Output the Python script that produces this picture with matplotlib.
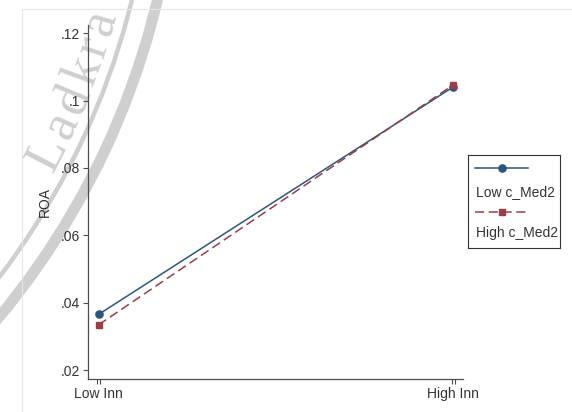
import numpy as np
import matplotlib
matplotlib.use("Agg")
import matplotlib.pyplot as plt
from matplotlib.patches import Wedge
from matplotlib.textpath import TextPath
from matplotlib.font_manager import FontProperties

plt.rcParams["font.family"] = ["Liberation Sans", "DejaVu Sans"]

# predicted ROA by innovation level, one series per c_Med2 group
groups = ["Low Inn", "High Inn"]
series_names = ["Low c_Med2", "High c_Med2"]
roa_low_med = [0.0365, 0.1041]
roa_high_med = [0.0334, 0.1047]
yticks = [0.02, 0.04, 0.06, 0.08, 0.10, 0.12]

W, H = 572, 412
fig = plt.figure(figsize=(W / 100, H / 100), dpi=100)

# faint seal behind the graph, laid out in pixel units
bg = fig.add_axes([0, 0, 1, 1], zorder=0)
bg.set_xlim(0, W)
bg.set_ylim(0, H)
bg.axis("off")
wm = "#cfcfcf"
seal = (-600, H + 180)
bg.add_patch(Wedge(seal, 784, -45, -5, width=11, color=wm, lw=0))
bg.add_patch(Wedge(seal, 756, -45, -5, width=4.5, color=wm, lw=0))

word = "Technology Ladkrabang"
fp = FontProperties(family="Liberation Serif")
size_px = 53
widths = []
for ch in word:
    if ch == " ":
        widths.append(0.25 * size_px + 6)
    else:
        widths.append(TextPath((0, 0), ch, size=size_px, prop=fp).get_extents().width + 6)
widths = np.array(widths)
s = np.cumsum(widths) - widths / 2
r_mid, r_base = 730, 742
phi = np.radians(-27.2) + (s - s[word.index("L")]) / r_mid
for ch, p in zip(word, phi):
    bx = seal[0] + r_base * np.cos(p)
    by = seal[1] + r_base * np.sin(p)
    # only letters that sit fully inside the picture
    if ch == " " or bx < 40 or by > H - 22:
        continue
    bg.text(bx, by, ch, fontsize=38, family="Liberation Serif", color=wm,
            rotation=np.degrees(p) + 90, rotation_mode="anchor",
            ha="center", va="baseline")

# light outer frame of the graph region
bg.plot([22, 22], [0, H - 9], color="#e6e6e6", lw=0.8)
bg.plot([22, W], [H - 9, H - 9], color="#e6e6e6", lw=0.8)

# main plot
ax = fig.add_axes([88 / W, (H - 379) / H, (463 - 88) / W, (379 - 25) / H], zorder=1)
ax.patch.set_alpha(0)

low_style = dict(color="#2a5680", lw=1.1, marker="o", ms=5.2)
high_style = dict(color="#9a3d45", lw=1.1, ls=(0, (6, 3)), marker="s", ms=5.0)

x = np.arange(len(groups))
ax.plot(x, roa_low_med, **low_style)
ax.plot(x, roa_high_med, **high_style)

ax.set_xlim(-0.0296, 1.0273)
ax.set_ylim(0.01733, 0.12247)

for side in ["top", "right"]:
    ax.spines[side].set_visible(False)
for side in ["left", "bottom"]:
    ax.spines[side].set_color("#4d4d4d")
    ax.spines[side].set_linewidth(0.9)

ax.set_yticks(yticks, [("%g" % v).lstrip("0") for v in yticks])
ax.tick_params(axis="y", direction="out", length=3.6, width=0.8,
               color="#4d4d4d", labelsize=10, labelcolor="#333333", pad=2)

# stata draws a doubled tick at each category
off = 0.0042
ax.set_xticks(x, groups)
ax.set_xticks(np.concatenate([x - off, x + off]), minor=True)
ax.tick_params(axis="x", which="major", length=0, labelsize=10,
               labelcolor="#333333", pad=6)
ax.tick_params(axis="x", which="minor", length=3.6, width=0.8, color="#4d4d4d")

ax.set_ylabel("ROA", fontsize=10, color="#333333")
ax.yaxis.set_label_coords(-0.096, 0.5)

# legend with keys stacked above labels
lg = fig.add_axes([468 / W, (H - 248) / H, 92 / W, 93 / H], zorder=2)
lg.set_xlim(0, 92)
lg.set_ylim(93, 0)
lg.set_xticks([])
lg.set_yticks([])
for sp in lg.spines.values():
    sp.set_color("#333333")
    sp.set_linewidth(0.8)

key_x = [7, 34, 60]
lg.plot(key_x, [13] * 3, markevery=[1], **low_style)
lg.text(7.5, 37, series_names[0], fontsize=10, color="#333333", va="center")
lg.plot(key_x, [57] * 3, markevery=[1], **high_style)
lg.text(7.5, 78, series_names[1], fontsize=10, color="#333333", va="center")

fig.savefig("out.png", dpi=100)
